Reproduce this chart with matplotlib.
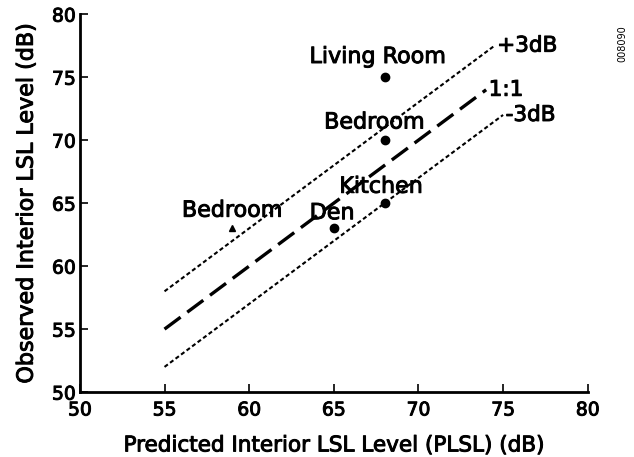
import numpy as np
import matplotlib.pyplot as plt
import matplotlib.patheffects as pe

plt.rcParams['font.family'] = ['DejaVu Sans']

# reference lines (predicted vs observed)
line_x = [55, 75]
line_offsets = [3, 0, -3]
line_labels = ["+3dB", "1:1", "-3dB"]
line_ends = [74.5, 74.0, 75.0]

# measured rooms
room_names = ["Living Room", "Bedroom", "Kitchen", "Den"]
room_pred = [68, 68, 68, 65]
room_obs = [75, 70, 65, 63]
tri_name = "Bedroom"
tri_pred = [59]
tri_obs = [63]

xticks = [50, 55, 60, 65, 70, 75, 80]
yticks = [50, 55, 60, 65, 70, 75, 80]

# scanned print looks a bit heavier than plain regular weight
heavy = [pe.withStroke(linewidth=0.7, foreground="black")]

fig = plt.figure(figsize=(6.34, 4.57), dpi=100)
ax = fig.add_axes([0.126, 0.142, 0.801, 0.827])

styles = [
    dict(linestyle=(0, (2.0, 1.3)), linewidth=1.5),
    dict(linestyle=(0, (6.0, 2.5)), linewidth=2.4),
    dict(linestyle=(0, (2.0, 1.3)), linewidth=1.5),
]
for off, lab, xe, st in zip(line_offsets, line_labels, line_ends, styles):
    xs = np.array([line_x[0], xe])
    ax.plot(xs, xs + off, color="black", dash_capstyle="butt", **st)
    ax.text(xe + 0.15, xe + off, lab, fontsize=15.5, ha="left", va="center",
            path_effects=heavy)

ax.plot(room_pred, room_obs, "o", color="black", markersize=6)
ax.plot(tri_pred, tri_obs, "^", color="black", markersize=5)

label_pos = [(67.6, 76.6), (67.4, 71.4), (67.8, 66.3), (64.9, 64.2)]
for name, (lx, ly) in zip(room_names, label_pos):
    ax.text(lx, ly, name, fontsize=16, ha="center", va="center", path_effects=heavy)
ax.text(59.0, 64.4, tri_name, fontsize=16, ha="center", va="center", path_effects=heavy)

ax.set_xlim(50, 80)
ax.set_ylim(50, 80)
ax.set_xticks(xticks)
ax.set_yticks(yticks)
ax.tick_params(direction="in", length=6, width=1.2, labelsize=13.5)
ax.tick_params(axis="x", pad=6)
ax.tick_params(axis="y", pad=3)
for lbl in ax.get_xticklabels() + ax.get_yticklabels():
    lbl.set_path_effects(heavy)
for side in ["top", "right"]:
    ax.spines[side].set_visible(False)
for side in ["left", "bottom"]:
    ax.spines[side].set_linewidth(2)

ax.set_xlabel("Predicted Interior LSL Level (PLSL) (dB)", fontsize=15.5, labelpad=11.5,
              path_effects=heavy)
ax.set_ylabel("Observed Interior LSL Level (dB)", fontsize=16, labelpad=11,
              path_effects=heavy)

fig.text(0.982, 0.905, "008090", rotation=90, fontsize=7, ha="center", va="center")

fig.savefig("out.png", dpi=100)
